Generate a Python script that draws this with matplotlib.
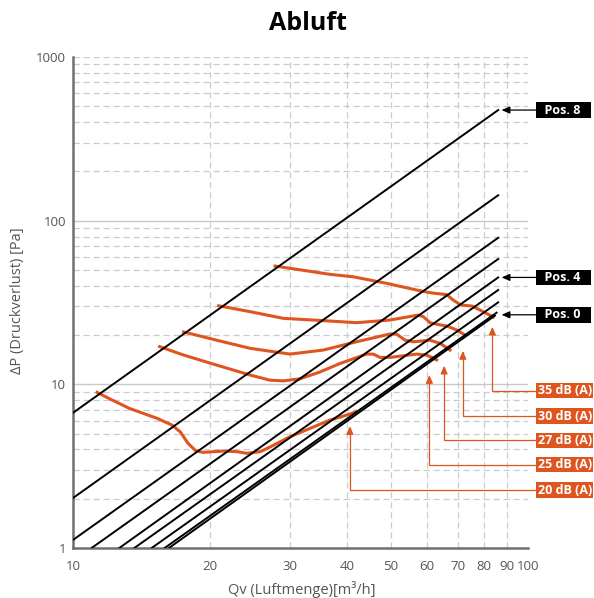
import numpy as np
import matplotlib
matplotlib.use("Agg")
import matplotlib.pyplot as plt
from matplotlib.ticker import NullLocator
from matplotlib.transforms import blended_transform_factory

plt.rcParams['font.family'] = ['Open Sans', 'DejaVu Sans']

orange = '#DE5520'
grey_txt = '#555555'
grid_col = '#cccccc'

# system lines Pos. 0 .. Pos. 8, start/end points (Qv [m3/h], dP [Pa])
pos_q0 = [16.25, 15.9, 14.89, 13.64, 12.64, 10.99, 10, 10, 10]
pos_p0 = [1, 1, 1, 1, 1, 1, 1.12, 2.02, 6.7]
pos_q1 = [84.6, 85.3, 86, 86, 86, 86, 86, 86, 86]
pos_p1 = [26.3, 27.4, 31.7, 37.7, 45.0, 58.3, 78.6, 143, 474]

# labelled lines
pos_labels = ['Pos. 8', 'Pos. 4', 'Pos. 0']
pos_label_p = [474, 45.0, 26.6]
pos_tip_q = 87.5

# sound level curves
q20 = [11.3, 12.1, 13.3, 15.3, 16.5, 17.2, 17.9, 18.6, 19.3, 21.4, 22.9, 24.1, 25.8, 27.1, 30.0, 33.2, 36.7, 38.9, 41.0, 41.9]
p20 = [8.93, 8.10, 7.13, 6.20, 5.64, 5.13, 4.36, 3.93, 3.84, 3.91, 3.88, 3.79, 3.88, 4.14, 4.79, 5.38, 6.05, 6.34, 6.65, 6.82]
q25 = [15.5, 17.5, 20.7, 24.5, 27.1, 29.0, 31.5, 34.9, 38.6, 44.2, 45.7, 47.3, 49.7, 56.9, 59.9, 63.0]
p25 = [17.0, 15.1, 13.1, 11.4, 10.6, 10.5, 10.8, 11.9, 13.4, 15.3, 15.3, 14.6, 14.6, 15.3, 15.1, 14.1]
q27 = [17.5, 20.7, 24.5, 30.0, 35.5, 42.0, 49.7, 51.4, 53.7, 56.0, 60.9, 64.1, 67.4]
p27 = [20.9, 18.6, 16.6, 15.3, 16.2, 18.2, 20.3, 20.3, 18.6, 18.2, 18.6, 17.8, 16.2]
q30 = [20.9, 24.5, 29.0, 35.5, 42.0, 49.7, 57.4, 58.9, 60.9, 63.0, 66.3, 69.7, 72.7]
p30 = [30.2, 27.8, 25.3, 24.5, 23.8, 24.7, 26.5, 25.9, 23.8, 23.3, 22.7, 21.5, 20.0]
q35 = [27.8, 36.7, 41.3, 48.9, 56.9, 60.9, 66.3, 68.5, 71.2, 75.3, 79.7, 83.8]
p35 = [52.8, 47.0, 45.4, 41.4, 37.7, 36.3, 35.3, 32.7, 30.5, 30.1, 27.8, 25.8]

db_labels = ['20 dB (A)', '25 dB (A)', '27 dB (A)', '30 dB (A)', '35 dB (A)']
db_tip_q = [40.6, 60.7, 65.4, 71.9, 83.5]
db_tip_p = [5.56, 11.4, 13.0, 16.0, 22.5]
db_label_p = [2.26, 3.23, 4.55, 6.40, 9.14]

x_ticks = [10, 20, 30, 40, 50, 60, 70, 80, 90, 100]
y_ticks = [1, 10, 100, 1000]

fig = plt.figure(figsize=(5.94, 5.98), dpi=100)
ax = fig.add_axes([73/594, 1-548/598, 455/594, 491/598])
ax.set_xscale('log')
ax.set_yscale('log')
ax.set_xlim(10, 100)
ax.set_ylim(1, 1000)

# grid
for v in x_ticks[1:-1]:
    ax.axvline(v, color=grid_col, lw=0.9, ls=(0, (5, 3)), zorder=0)
for dec in [1, 10, 100]:
    for m in range(2, 10):
        ax.axhline(dec*m, color=grid_col, lw=0.9, ls=(0, (5, 3)), zorder=0)
for v in [10, 100]:
    ax.axhline(v, color='#c8c8c8', lw=1.0, zorder=0)
ax.axhline(1000, color=grid_col, lw=0.9, ls=(0, (5, 3)), zorder=0)

# sound curves
for q, p in [(q20, p20), (q25, p25), (q27, p27), (q30, p30), (q35, p35)]:
    ax.plot(q, p, color=orange, lw=2.2, solid_joinstyle='round', zorder=2)

# system lines
for q0, p0, q1, p1 in zip(pos_q0, pos_p0, pos_q1, pos_p1):
    ax.plot([q0, q1], [p0, p1], color='black', lw=1.4, zorder=3)

ax.set_xticks(x_ticks)
ax.set_xticklabels([str(v) for v in x_ticks])
ax.set_yticks(y_ticks)
ax.set_yticklabels([str(v) for v in y_ticks])
ax.xaxis.set_minor_locator(NullLocator())
ax.yaxis.set_minor_locator(NullLocator())
ax.tick_params(length=0, labelsize=9.5, labelcolor=grey_txt)
ax.tick_params(axis='x', pad=9)
ax.tick_params(axis='y', pad=5)

for s in ['top', 'right']:
    ax.spines[s].set_visible(False)
for s in ['left', 'bottom']:
    ax.spines[s].set_color('#707070')
    ax.spines[s].set_linewidth(1.8)

fig.text(308/594, 0.96, 'Abluft', ha='center', va='center', fontsize=18, fontweight='bold')
fig.text(18/594, 0.498, 'ΔP (Druckverlust) [Pa]', rotation=90, ha='center', va='center',
         fontsize=10.5, color=grey_txt)
fig.text(302/594, 1-589/598, 'Qv (Luftmenge)[m³/h]', ha='center', va='center',
         fontsize=10.5, color=grey_txt)

trans = blended_transform_factory(ax.transAxes, ax.transData)

for name, yp in zip(pos_labels, pos_label_p):
    ax.annotate('  ' + name + '   ', xy=(pos_tip_q, yp), xytext=(1.0209, yp), textcoords=trans,
                ha='left', va='center', color='white', fontsize=9, fontweight='bold',
                bbox=dict(boxstyle='square,pad=0.1', fc='black', ec='none'),
                arrowprops=dict(arrowstyle='-|>,head_length=0.8,head_width=0.35', color='black',
                                lw=0.9, shrinkA=0, shrinkB=0, mutation_scale=6),
                annotation_clip=False, zorder=5)

for name, tq, tp, yp in zip(db_labels, db_tip_q, db_tip_p, db_label_p):
    ax.annotate(name, xy=(tq, tp), xytext=(1.0209, yp), textcoords=trans,
                ha='left', va='center', color='white', fontsize=9, fontweight='bold',
                bbox=dict(boxstyle='square,pad=0.1', fc=orange, ec='none'),
                arrowprops=dict(arrowstyle='-|>,head_length=0.8,head_width=0.35', color=orange,
                                lw=0.9, shrinkA=0, shrinkB=0, mutation_scale=6,
                                connectionstyle='angle,angleA=0,angleB=90,rad=0'),
                annotation_clip=False, zorder=5)

fig.savefig('out.png', dpi=100)
